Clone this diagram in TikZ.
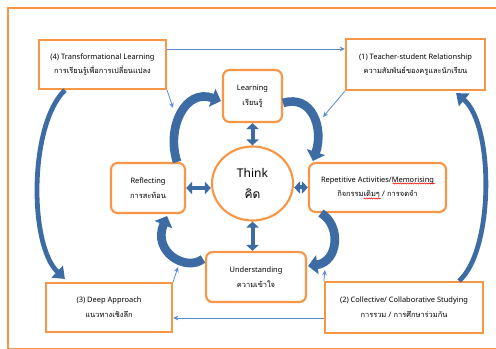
\documentclass[tikz,border=0pt]{standalone}
\usepackage{fontspec}
\setmainfont{Noto Sans}
\newfontfamily\thaifont[Script=Thai]{Loma}
\usetikzlibrary{arrows.meta,calc,shapes.geometric,decorations.pathmorphing}

\definecolor{boxorange}{HTML}{F79646}
\definecolor{blockblue}{HTML}{3D6BA3}
\definecolor{linkblue}{HTML}{5A8AD0}

\tikzset{
  card/.style={draw=boxorange, line width=1.6pt, fill=white, align=center,
    inner sep=0pt, font=\fontsize{5.6}{11}\selectfont},
  plainbox/.style={card},
  roundbox/.style={card, rounded corners=5pt},
  dims/.style 2 args={minimum width=#1*0.75pt, minimum height=#2*0.75pt},
  link/.style={draw=linkblue, line width=0.6pt, -{Stealth[length=4pt,width=3.5pt]}},
  cyclearrow/.style={draw=blockblue, line width=6.5pt, -{Triangle[length=7pt,width=14pt]}},
  longarc/.style={draw=blockblue, line width=3.6pt, -{Triangle[length=8pt,width=12pt]}},
  twoway/.style={draw=blockblue, line width=3pt,
    {Triangle[length=4.5pt,width=9pt]}-{Triangle[length=4.5pt,width=9pt]}},
  spellmark/.style={draw=red, line width=0.4pt, decorate,
    decoration={snake, amplitude=0.45pt, segment length=1.8pt}},
}

\begin{document}
\begin{tikzpicture}[x=0.75pt, y=-0.75pt]
\useasboundingbox (0,0) rectangle (496,349);
\clip (0,0) rectangle (496,349);

% outer frame
\draw[boxorange, line width=1.5pt] (8,8) rectangle (520,348.5);

% the four outer stages
\node[plainbox, dims={127}{49}] (t4) at (102.5,64.5)
  {(4) Transformational Learning\\{\thaifont การเรียนรู้เพื่อการเปลี่ยนแปลง}};
\node[plainbox, dims={139}{51}] (t1) at (415.5,64.5)
  {(1) Teacher-student Relationship\\{\thaifont ความสัมพันธ์ของครูและนักเรียน}};
\node[plainbox, dims={126}{49}] (t3) at (109,307.5)
  {(3) Deep Approach\\{\thaifont แนวทางเชิงลึก}};
\node[plainbox, dims={158}{51}] (t2) at (404,307.5)
  {(2) Collective/ Collaborative Studying\\{\thaifont การรวม / การศึกษาร่วมกัน}};

% the inner cycle
\node[roundbox, dims={59}{52}] (learn) at (252.5,96)
  {Learning\\{\thaifont เรียนรู้}};
\node[roundbox, dims={74}{50}] (refl) at (148,188)
  {Reflecting\\{\thaifont การสะท้อน}};
\node[roundbox, dims={137}{49}] (rep) at (377.5,187.5)
  {Repetitive Activities/Memorising\\{\thaifont กิจกรรมเดิมๆ / การจดจำ}};
\node[roundbox, dims={100}{50}] (und) at (256,277)
  {Understanding\\{\thaifont ความเข้าใจ}};
\node[card, ellipse, dims={81}{74}, font=\fontsize{9}{16}\selectfont] (think) at (252.5,183.5)
  {Think\\{\thaifont คิด}};

% spelling marks under two words
\draw[spellmark] ($(rep.center)+(15,-4)$) -- ($(rep.center)+(57,-4)$);
\draw[spellmark] ($(rep.center)+(-14,11)$) -- ($(rep.center)+(3,11)$);

% two-way links to the centre
\draw[twoway] (learn.south) -- (think.north);
\draw[twoway] (think.south) -- (think.south |- und.north);
\draw[twoway] (refl.east) -- (refl.east -| think.west);
\draw[twoway] (rep.west) -- (rep.west -| think.east);

% curved cycle arrows
\draw[cyclearrow] ($(refl.north east)+(-9,0)$) .. controls (166,128) and (185,88) .. ($(learn.west)+(-1,5)$);
\draw[cyclearrow] ($(learn.east)+(0,7)$) .. controls (312,94) and (324,128) .. ($(rep.north west)+(5,-1)$);
\draw[cyclearrow] ($(rep.south west)+(13,0)$) .. controls (342,226) and (338,262) .. ($(und.east)+(1,-11)$);
\draw[cyclearrow] ($(und.west)+(-2,-18)$) .. controls (186,272) and (152,252) .. ($(refl.south east)+(-19,2)$);

% long arcs between the outer stages
\draw[longarc] ($(t4.south west)+(27,0)$) .. controls (29,125) and (29,245) .. ($(t3.north west)+(20,-3)$);
\draw[longarc] ($(t2.north east)+(-25,0)$) .. controls (494,250) and (494,125) .. ($(t1.south east)+(-30,2)$);

% thin links
\coordinate (k1) at (173,108);
\coordinate (k2) at (323,117);
\coordinate (k3) at (325,270);
\coordinate (k4) at (178,267);
\draw[link] ($(t4.north east)+(0,10)$) -- ($(t1.north west)+(0,11)$);
\draw[link] (t4.south east) -- (k1);
\draw[link] (t1.south west) -- (k2);
\draw[link] ($(t2.west)+(0,10.5)$) -- ($(t3.east)+(0,10.5)$);
\draw[link] (t2.north west) -- (k3);
\draw[link] (t3.north east) -- (k4);
\end{tikzpicture}
\end{document}
